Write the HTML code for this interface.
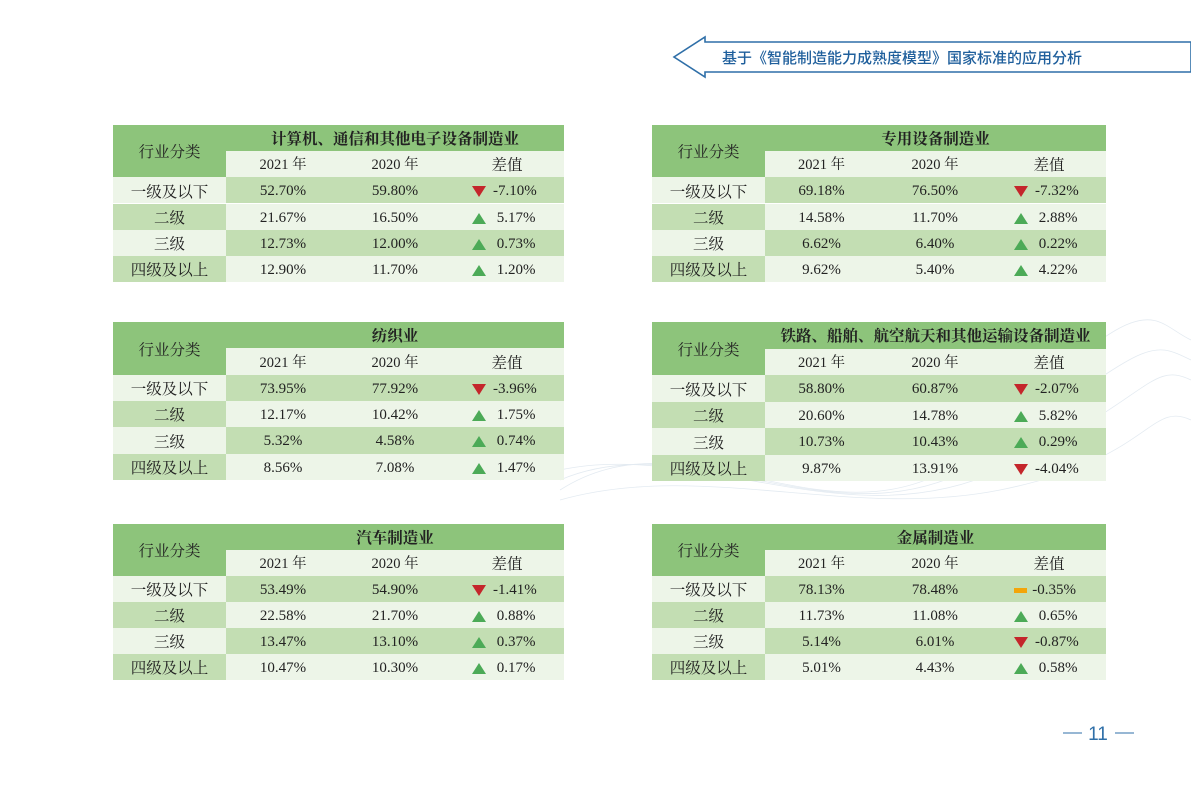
<!DOCTYPE html>
<html><head><meta charset="utf-8">
<style>
html,body{margin:0;padding:0;background:#fff;}
#page{position:relative;width:1191px;height:794px;overflow:hidden;background:#fff;font-family:"Liberation Serif","Noto Serif CJK SC",serif;color:#222;}
.c{position:absolute;box-sizing:border-box;display:flex;align-items:center;justify-content:center;font-size:14.5px;white-space:nowrap;line-height:1;}
.v{padding-top:3px;font-size:15px;}
.lab{font-size:15.5px;padding-top:4px;}
.hd{background:#8dc47b;}
.lt{background:#edf5e8;}
.dk{background:#c3deb3;}
.ttl{font-weight:bold;font-size:15.5px;padding-top:3px;}
.yr{padding-top:3px;}
.tri{display:inline-block;width:0;height:0;margin-right:7px;}
.up{border-left:7px solid transparent;border-right:7px solid transparent;border-bottom:11px solid #4caa57;}
.dn{border-left:7px solid transparent;border-right:7px solid transparent;border-top:11px solid #c4262b;}
.eq{width:14px;height:5px;background:#f3a50a;margin-right:5px;display:inline-block;}
</style></head>
<body>
<div id="page">
<svg style="position:absolute;left:0;top:0" width="1191" height="794">
  <g stroke="#dde6ee" fill="none" stroke-width="0.8" opacity="0.8">
    <path d="M560 480 C700 420 850 560 1000 450 S1150 340 1191 360"/>
    <path d="M560 470 C700 440 850 540 1000 470 S1150 360 1191 380"/>
    <path d="M560 490 C700 400 850 580 1000 430 S1150 320 1191 340"/>
    <path d="M560 500 C700 460 850 520 1000 490 S1150 400 1191 420"/>
  </g>
  <g>
    <polygon points="1191,42 705,42 705,37 674,57 705,77 705,72 1191,72" fill="#fff" stroke="#2f6fa8" stroke-width="1.6"/>
    <text x="722" y="63" font-family="Liberation Sans,Noto Sans CJK SC,sans-serif" font-size="15" font-weight="500" fill="#1f5f9c">基于《智能制造能力成熟度模型》国家标准的应用分析</text>
  </g>
  <g>
    <line x1="1063" y1="733" x2="1082" y2="733" stroke="#2f6fa8" stroke-width="1"/>
    <line x1="1115" y1="733" x2="1134" y2="733" stroke="#2f6fa8" stroke-width="1"/>
    <text x="1098" y="740" text-anchor="middle" font-family="Liberation Sans,sans-serif" font-size="19" fill="#2f6fa8">11</text>
  </g>
</svg>
<div id="tables"></div>
</div>
<script>
const titles=["计算机、通信和其他电子设备制造业","专用设备制造业","纺织业","铁路、船舶、航空航天和其他运输设备制造业","汽车制造业","金属制造业"];
const categories=["一级及以下","二级","三级","四级及以上"];
const values2021=[[52.70,21.67,12.73,12.90],[69.18,14.58,6.62,9.62],[73.95,12.17,5.32,8.56],[58.80,20.60,10.73,9.87],[53.49,22.58,13.47,10.47],[78.13,11.73,5.14,5.01]];
const values2020=[[59.80,16.50,12.00,11.70],[76.50,11.70,6.40,5.40],[77.92,10.42,4.58,7.08],[60.87,14.78,10.43,13.91],[54.90,21.70,13.10,10.30],[78.48,11.08,6.01,4.43]];
const diffs=[[-7.10,5.17,0.73,1.20],[-7.32,2.88,0.22,4.22],[-3.96,1.75,0.74,1.47],[-2.07,5.82,0.29,-4.04],[-1.41,0.88,0.37,0.17],[-0.35,0.65,-0.87,0.58]];
const flatFlags=[[0,0,0,0],[0,0,0,0],[0,0,0,0],[0,0,0,0],[0,0,0,0],[1,0,0,0]];
const root=document.getElementById('tables');
function cell(x,y,w,h,cls,html){const d=document.createElement('div');d.className='c '+cls;d.style.left=x+'px';d.style.top=y+'px';d.style.width=w+'px';d.style.height=h+'px';d.innerHTML=html;root.appendChild(d);return d;}
const pos=[[113,125,157],[652,125,157],[113,322,158],[652,322,159],[113,524,156],[652,524,156]];
for(let t=0;t<6;t++){
  const [x,y,H]=pos[t];const rh=H/6;
  const cw=t%2?[113,113,114,114]:[113,114,110,114];
  const xs=[x,x+cw[0],x+cw[0]+cw[1],x+cw[0]+cw[1]+cw[2]];
  const W=cw.reduce((a,b)=>a+b);
  let e=cell(x,y,cw[0],rh*2,'hd lab','行业分类');
  
  
  e=cell(xs[1],y,W-cw[0],rh,'hd ttl',titles[t]);
  
  
  ['2021 年','2020 年','差值'].forEach((s,i)=>{
    e=cell(xs[i+1],y+rh,cw[i+1],rh,'lt'+(i==2?' lab':' yr'),s);
    
    
  });
  for(let r=0;r<4;r++){
    const ry=y+rh*(r+2);const odd=r%2===0;
    e=cell(x,ry,cw[0],rh,(odd?'lt':'dk')+' lab',categories[r]);
    
    
    e=cell(xs[1],ry,cw[1],rh,(odd?'dk':'lt')+' v',values2021[t][r].toFixed(2)+'%');
    
    
    e=cell(xs[2],ry,cw[2],rh,(odd?'dk':'lt')+' v',values2020[t][r].toFixed(2)+'%');
    
    
    const d=diffs[t][r];
    const icon=flatFlags[t][r]?'<span class="eq"></span>':(d<0?'<span class="tri dn"></span>':'<span class="tri up"></span>');
    e=cell(xs[3],ry,cw[3],rh,(odd?'dk':'lt')+' v','<span style="display:inline-flex;align-items:center;width:62px;margin-left:-8px">'+icon+(d<0?'':'&nbsp;')+d.toFixed(2)+'%</span>');
    
    
  }
}
</script>
</body></html>
